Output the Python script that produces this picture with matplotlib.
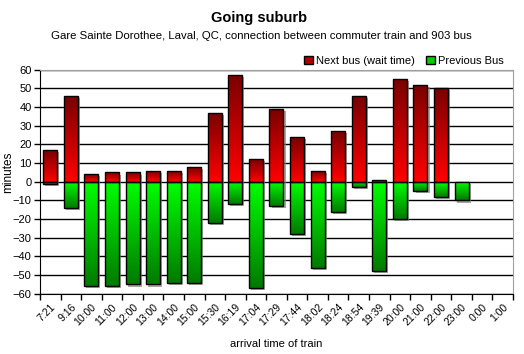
import numpy as np
import matplotlib
matplotlib.use('Agg')
import matplotlib.pyplot as plt
import matplotlib.patheffects as pe
from matplotlib.colors import LinearSegmentedColormap
from matplotlib.patches import Patch

plt.rcParams['font.family'] = ['Liberation Sans', 'DejaVu Sans']

# data
arrivals = ['7:21', '9:16', '10:00', '11:00', '12:00', '13:00', '14:00', '15:00',
            '15:30', '16:19', '17:04', '17:29', '17:44', '18:02', '18:24', '18:54',
            '19:39', '20:00', '21:00', '22:00', '23:00', '0:00', '1:00']
next_bus = [17, 46, 4, 5, 5, 6, 6, 8, 37, 57, 12, 39, 24, 6, 27, 46, 1, 55, 52, 50, 0, 0, 0]
prev_bus = [-1, -14, -56, -56, -55, -55, -54, -54, -22, -12, -57, -13, -28, -46, -16, -3,
            -48, -20, -5, -8, -10, 0, 0]

red_cmap = LinearSegmentedColormap.from_list('r', ['#ff0000', '#7a0000'])
green_cmap = LinearSegmentedColormap.from_list('g', ['#007a00', '#00ff00'])

fig = plt.figure(figsize=(5.24, 3.54), dpi=100)
ax = fig.add_axes([0.0763, 0.170, 0.9027, 0.633])

x = np.arange(len(arrivals))
width = 0.68
shadow = [pe.SimplePatchShadow(offset=(1.5, -1.5), shadow_rgbFace='#808080', alpha=0.7), pe.Normal()]


def gradient_bars(values, cmap):
	# empty slots get no bar at all
	vals = np.array(values, dtype=float)
	vals[vals == 0] = np.nan
	bars = ax.bar(x, vals, width, color='white', edgecolor='none', zorder=2, path_effects=shadow)
	grad = np.linspace(0, 1, 100).reshape(-1, 1)
	for b in bars:
		h = b.get_height()
		if not np.isfinite(h):
			continue
		x0, y0 = b.get_x(), b.get_y()
		x1, y1 = x0 + b.get_width(), y0 + h
		im = ax.imshow(grad, cmap=cmap, aspect='auto', origin='lower',
		               extent=[x0, x1, min(y0, y1), max(y0, y1)], zorder=2.5)
		im.set_clip_path(b)
	ax.bar(x, vals, width, color='none', edgecolor='black', lw=1, zorder=3)


gradient_bars(next_bus, red_cmap)
gradient_bars(prev_bus, green_cmap)

ax.set_xlim(-0.5, len(arrivals) - 0.5)
ax.set_ylim(-60, 60)
ax.set_yticks(np.arange(-60, 61, 10))
ax.yaxis.grid(True, color='black', lw=1)
ax.set_axisbelow(True)

ax.set_xticks(np.arange(len(arrivals) + 1) - 0.5)
ax.set_xticklabels([])
ax.set_xticks(x, minor=True)
ax.set_xticklabels(arrivals, minor=True, rotation=45, ha='right', rotation_mode='anchor', fontsize=7.5)
ax.tick_params(axis='x', which='minor', length=0, pad=6)
ax.tick_params(axis='x', which='major', length=4, width=1, color='black')
ax.tick_params(axis='y', length=4, width=1, labelsize=8, pad=2)

for s in ['top', 'right']:
	ax.spines[s].set_color('#a0a0a0')
for s in ['left', 'bottom']:
	ax.spines[s].set_color('black')

fig.text(0.016, 0.512, 'minutes', rotation=90, ha='center', va='center', fontsize=8.5)
ax.set_xlabel('arrival time of train', fontsize=8, labelpad=8)

fig.text(0.495, 0.948, 'Going suburb', ha='center', va='center', fontsize=10.5, fontweight='bold')
fig.text(0.499, 0.897, 'Gare Sainte Dorothee, Laval, QC, connection between commuter train and 903 bus',
         ha='center', va='center', fontsize=8.2)

handles = [Patch(facecolor='#b00000', edgecolor='black', label='Next bus (wait time)'),
           Patch(facecolor='#00cc00', edgecolor='black', label='Previous Bus')]
fig.legend(handles=handles, loc='lower right', bbox_to_anchor=(0.975, 0.795), ncol=2, frameon=False,
           fontsize=8, handlelength=0.8, handleheight=0.8, handletextpad=0.3, columnspacing=1.0,
           borderpad=0.1)

fig.savefig('out.png', dpi=100)
